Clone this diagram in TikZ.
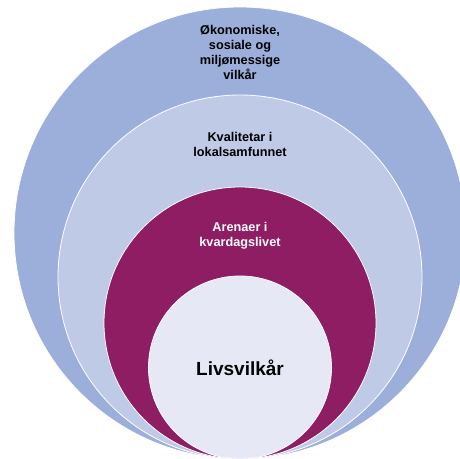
\documentclass[tikz,border=0pt]{standalone}
\usepackage{fontspec}
\setmainfont{Liberation Sans}
\definecolor{outerblue}{HTML}{9BAFDA}
\definecolor{midblue}{HTML}{BFCAE7}
\definecolor{arenapurple}{HTML}{8E1D63}
\definecolor{innerblue}{HTML}{E6E9F5}
\tikzset{
  ring/.style={circle, draw=white, line width=0.8pt, inner sep=0pt},
  label/.style={align=center, font=\bfseries\fontsize{12.7}{15}\selectfont}
}
\begin{document}
\begin{tikzpicture}[x=1pt, y=1pt]
      \useasboundingbox (0,0) rectangle (460,458);
      \node[ring, fill=outerblue, minimum size=452] (okonomi) at (240,225) {};
      \node[ring, fill=midblue, minimum size=364] (lokal) at (240,181) {};
      \node[ring, fill=arenapurple, minimum size=272] (arena) at (240,135) {};
      \node[ring, fill=innerblue, minimum size=183] (livs) at (240,90.5) {};
      \node[label] (okonomitext) at (240,406) {Økonomiske,\\sosiale og\\miljømessige\\vilkår};
      \node[label] (lokaltext) at (240,314) {Kvalitetar i\\lokalsamfunnet};
      \node[label, text=white] (arenatext) at (240,222) {Arenaer i\\kvardagslivet};
      \node[font=\bfseries\fontsize{19}{22}\selectfont] (livstext) at (livs.center) {Livsvilkår};
    \end{tikzpicture}
\end{document}
